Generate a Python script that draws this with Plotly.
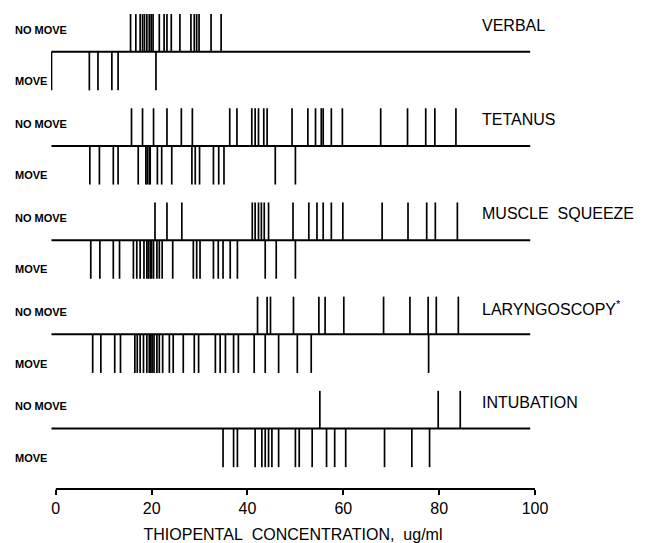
import plotly.graph_objects as go

# ---- data (thiopental concentration, ug/ml) ----
stimuli = ["VERBAL", "TETANUS", "MUSCLE\u00a0\u00a0SQUEEZE", "LARYNGOSCOPY<sup>*</sup>", "INTUBATION"]

verbal_nomove = [15.6, 16.7, 17.6, 18.1, 18.5, 19.0, 19.5, 19.9, 20.3, 21.6, 22.6, 23.2,
                 24.1, 25.9, 28.2, 28.9, 29.4, 29.9, 32.4, 34.5]
verbal_move = [-0.9, 7.0, 8.8, 11.7, 13.0, 20.9]

tetanus_nomove = [15.8, 18.1, 20.4, 23.2, 26.2, 28.5, 36.3, 37.8, 40.9, 41.6, 42.3, 43.4,
                  44.1, 49.3, 52.6, 54.2, 55.4, 55.8, 57.5, 59.8, 67.8, 73.4, 77.2, 79.1, 83.5]
tetanus_move = [7.1, 9.1, 12.0, 13.0, 17.2, 18.8, 19.1, 19.5, 19.7, 21.2, 22.1, 24.2,
                28.4, 29.1, 30.0, 32.9, 34.0, 35.1, 45.8, 50.0]

muscle_nomove = [20.7, 23.2, 26.3, 41.0, 41.6, 42.3, 42.9, 43.5, 44.4, 49.5, 52.8, 54.5,
                 55.8, 57.5, 59.9, 68.1, 73.5, 77.4, 79.2, 83.8]
muscle_move = [7.3, 9.2, 12.0, 13.3, 16.2, 16.9, 17.6, 18.4, 19.0, 19.3, 19.7, 20.0, 20.4,
               21.1, 21.6, 22.2, 24.4, 28.7, 29.4, 30.1, 32.9, 33.9, 34.9, 36.4, 37.9,
               43.7, 46.0, 50.0]

laryngo_nomove = [42.1, 44.1, 44.8, 49.6, 54.9, 56.2, 60.1, 68.4, 73.9, 77.7, 79.4, 84.0]
laryngo_move = [7.7, 9.4, 12.3, 13.5, 16.5, 17.0, 17.6, 18.3, 19.0, 19.5, 19.8, 20.1, 20.5,
                21.1, 21.6, 22.3, 23.7, 24.5, 26.6, 28.9, 29.8, 33.3, 34.3, 35.4, 37.1,
                38.1, 41.4, 43.7, 46.5, 50.4, 53.3, 77.8]

intub_nomove = [55.1, 79.8, 84.4]
intub_move = [34.9, 37.1, 37.9, 41.6, 43.0, 43.7, 44.4, 45.1, 46.5, 50.0, 50.8, 53.5,
              56.5, 58.2, 60.5, 68.6, 74.3, 78.0]

nomove_sets = [verbal_nomove, tetanus_nomove, muscle_nomove, laryngo_nomove, intub_nomove]
move_sets = [verbal_move, tetanus_move, muscle_move, laryngo_move, intub_move]

x_ticks = [0, 20, 40, 60, 80, 100]

# ---- layout constants ----
TICK_UP = 0.40
TICK_DOWN = 0.41
LINE_START, LINE_END = -0.9, 99.0
FONT = "Liberation Sans, Arial, sans-serif"
ROW_LABEL_X = -0.079  # paper units, left of the plot area

fig = go.Figure()

for i, (nm, mv) in enumerate(zip(nomove_sets, move_sets)):
    base = 4 - i
    # baseline
    fig.add_trace(go.Scatter(x=[LINE_START, LINE_END], y=[base, base], mode="lines",
                             line=dict(color="black", width=2), hoverinfo="skip",
                             showlegend=False))
    xs, ys = [], []
    for v in nm:
        xs += [v, v, None]
        ys += [base, base + TICK_UP, None]
    for v in mv:
        xs += [v, v, None]
        ys += [base, base - TICK_DOWN, None]
    fig.add_trace(go.Scatter(x=xs, y=ys, mode="lines",
                             line=dict(color="black", width=1.7), hoverinfo="skip",
                             showlegend=False))
    fig.add_annotation(xref="paper", x=ROW_LABEL_X, y=base + 0.234, text="<b>NO MOVE</b>",
                       showarrow=False, xanchor="left", yanchor="middle",
                       font=dict(family=FONT, size=11, color="black"))
    fig.add_annotation(xref="paper", x=ROW_LABEL_X, y=base - 0.31, text="<b>MOVE</b>",
                       showarrow=False, xanchor="left", yanchor="middle",
                       font=dict(family=FONT, size=11, color="black"))
    fig.add_annotation(x=88.6, y=base + 0.28, text=stimuli[i], showarrow=False,
                       xanchor="left", yanchor="middle",
                       font=dict(family=FONT, size=16, color="black"))

# axis line from 0 to 100
fig.add_shape(type="line", xref="x", yref="paper", x0=x_ticks[0], x1=x_ticks[-1], y0=0, y1=0,
              line=dict(color="black", width=2))

fig.update_layout(
    width=647, height=543,
    margin=dict(l=51, r=112, t=10, b=54),
    paper_bgcolor="white", plot_bgcolor="white",
    showlegend=False,
    xaxis=dict(range=[-1, 100], tickvals=x_ticks, ticktext=[str(t) for t in x_ticks],
               ticks="outside", ticklen=5, tickwidth=1.5, tickcolor="black",
               ticklabelstandoff=0, automargin=False,
               showline=False, showgrid=False, zeroline=False,
               tickfont=dict(family=FONT, size=16, color="black"),
               title=dict(text="THIOPENTAL\u00a0\u00a0CONCENTRATION,\u00a0\u00a0ug/ml",
                          font=dict(family=FONT, size=16, color="black"), standoff=17)),
    yaxis=dict(range=[-0.642, 4.443], visible=False, showgrid=False, zeroline=False,
               automargin=False),
)

fig.write_html("out.html", config={"displayModeBar": False},
               post_script="document.body.style.margin='0';")
